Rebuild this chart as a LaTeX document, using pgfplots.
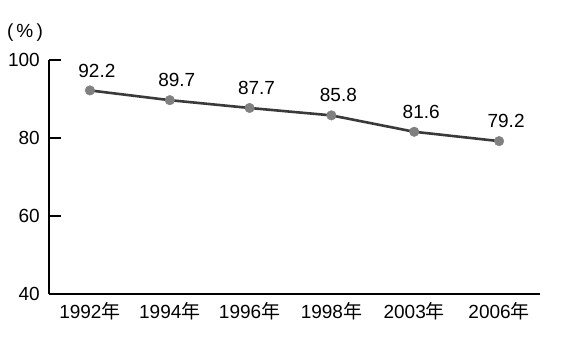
\documentclass[border=0pt]{standalone}
\usepackage{pgfplots}
\pgfplotsset{compat=1.18}
\usepackage{fontspec}
\setmainfont{Liberation Sans}
\newfontfamily\cjk{Noto Sans CJK JP}
\definecolor{linec}{HTML}{3A3A3A}
\definecolor{markc}{HTML}{808080}
\begin{document}
\begin{tikzpicture}
\path (0pt,0pt) rectangle (576pt,354pt);
\begin{axis}[
  at={(49pt,60pt)}, anchor=south west,
  scale only axis, width=491pt, height=234pt,
  xmin=-0.5, xmax=5.5, ymin=40, ymax=100,
  axis x line*=bottom, axis y line*=left,
  axis line style={line width=1.3pt, black, -},
  xtick={0,0.976,1.951,2.951,3.963,5},
  xticklabels={1992{\cjk 年},1994{\cjk 年},1996{\cjk 年},1998{\cjk 年},2003{\cjk 年},2006{\cjk 年}},
  ytick={40,60,80,100},
  tick style={draw=none},
  /pgf/number format/assume math mode=true,
  tick label style={font=\fontsize{19}{20}\selectfont},
  yticklabel style={inner sep=0pt, xshift=-9pt},
  xticklabel style={inner sep=0pt, anchor=north, yshift=-8pt},
  clip=false,
]
\addplot[color=linec, line width=2.6pt, mark=*, mark size=4.8pt,
  mark options={draw=markc, fill=markc, line width=0.4pt},
  nodes near coords, point meta=explicit symbolic,
  every node near coord/.append style={font=\fontsize{19}{20}\selectfont, text=black, anchor=south, inner sep=0pt, xshift=7pt, yshift=13pt}]
  table[meta=lab] {
x y lab
0 92.2 92.2
0.976 89.7 89.7
1.951 87.7 87.7
2.951 85.8 85.8
3.963 81.6 81.6
5 79.2 79.2
};
\node[font=\fontsize{19}{20}\selectfont, anchor=center, inner sep=0pt] at (rel axis cs:-0.049,1.117) {(\,\%\,)};
\end{axis}
% inward tick marks of the y axis (axis decoration)
\draw[line width=1.6pt, black] (49pt,138pt) -- (61pt,138pt);
\draw[line width=1.6pt, black] (49pt,216pt) -- (61pt,216pt);
\draw[line width=1.6pt, black] (49pt,294pt) -- (61pt,294pt);
\end{tikzpicture}
\end{document}
